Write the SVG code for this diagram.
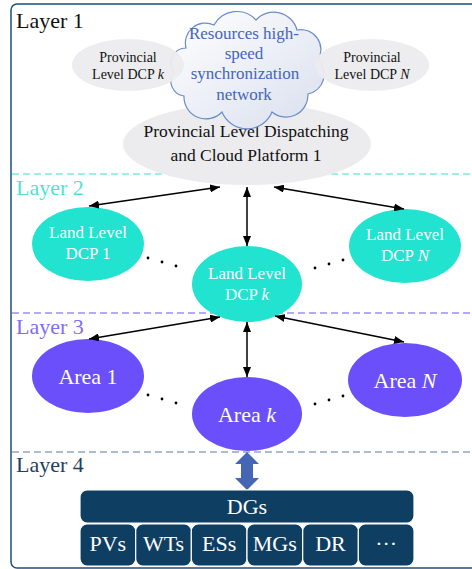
<svg xmlns="http://www.w3.org/2000/svg" width="472" height="569" viewBox="0 0 472 569">
<defs>
<linearGradient id="cloudGrad" x1="0" y1="0" x2="1" y2="1">
<stop offset="0" stop-color="#ffffff"/>
<stop offset="1" stop-color="#d9dfee"/>
</linearGradient>
<marker id="ah" viewBox="0 0 10 8" refX="10" refY="4" markerWidth="10" markerHeight="8" markerUnits="userSpaceOnUse" orient="auto-start-reverse">
<path d="M0,0 L10,4 L0,8 Z" fill="#000"/>
</marker>
<style>
text{font-family:"Liberation Serif","Times New Roman",serif;}
.layer{font-size:22px;}
.prov{fill:#ececef;}
.provt{font-size:14px;fill:#111;text-anchor:middle;}
.land{fill:#22e2d0;}
.area{fill:#6a4ffb;}
.wt{fill:#fff;text-anchor:middle;}
.cell{fill:#0f3e63;stroke:#fff;stroke-width:1.2;}
.conn{stroke:#000;stroke-width:1.5;fill:none;marker-start:url(#ah);marker-end:url(#ah);}
.dot{fill:#000;}
</style>
</defs>
<rect x="11" y="4" width="475" height="564" rx="6" fill="#fff" stroke="#1f4e79" stroke-width="1.5"/>
<line x1="12" y1="174" x2="472" y2="174" stroke="#7fe9df" stroke-width="1.5" stroke-dasharray="7,4"/>
<line x1="12" y1="313" x2="472" y2="313" stroke="#9d8ff8" stroke-width="1.5" stroke-dasharray="7,4"/>
<line x1="12" y1="452" x2="472" y2="452" stroke="#8fa6bd" stroke-width="1.5" stroke-dasharray="7,4"/>
<text class="layer" x="16" y="28" fill="#111">Layer 1</text>
<text class="layer" x="16" y="195" fill="#4fe3d4">Layer 2</text>
<text class="layer" x="16" y="334" fill="#7f6cf7">Layer 3</text>
<text class="layer" x="16" y="472" fill="#1f4060">Layer 4</text>
<g id="platform">
<ellipse class="prov" cx="247" cy="144" rx="124" ry="41"/>
<text x="246" y="137" font-size="17.5" fill="#111" text-anchor="middle">Provincial Level Dispatching</text>
<text x="246" y="161" font-size="17.5" fill="#111" text-anchor="middle">and Cloud Platform 1</text>
</g>
<g id="cloud">
<path d="M186,48 A20,20 0 0 1 214,25 A26,26 0 0 1 256,20 A24,24 0 0 1 297,30 A20,20 0 0 1 318,60 A20,20 0 0 1 308,94 A22,22 0 0 1 272,112 A27,27 0 0 1 222,112 A22,22 0 0 1 184,96 A15,15 0 0 1 174,72 A15,15 0 0 1 186,48 Z" fill="url(#cloudGrad)" stroke="#6a8ccc" stroke-width="1.2"/>
<text x="244" y="39" font-size="17" fill="#4466bb" text-anchor="middle">Resources high-</text>
<text x="244" y="59" font-size="17" fill="#4466bb" text-anchor="middle">speed</text>
<text x="245" y="79" font-size="17" fill="#4466bb" text-anchor="middle">synchronization</text>
<text x="244" y="100" font-size="17" fill="#4466bb" text-anchor="middle">network</text>
</g>
<g id="provK">
<ellipse class="prov" cx="128" cy="65" rx="56" ry="26" opacity="0.95"/>
<text class="provt" x="128" y="62">Provincial</text>
<text class="provt" x="128" y="79">Level DCP <tspan font-style="italic">k</tspan></text>
</g>
<g id="provN">
<ellipse class="prov" cx="372" cy="65" rx="57" ry="26" opacity="0.95"/>
<text class="provt" x="372" y="62">Provincial</text>
<text class="provt" x="372" y="79">Level DCP <tspan font-style="italic">N</tspan></text>
</g>
<g id="land1">
<ellipse class="land" cx="88" cy="244" rx="56" ry="37"/>
<text class="wt" x="88" y="238" font-size="17">Land Level</text>
<text class="wt" x="88" y="259" font-size="17">DCP 1</text>
</g>
<g id="landK">
<ellipse class="land" cx="247" cy="284" rx="55" ry="38"/>
<text class="wt" x="247" y="279" font-size="17">Land Level</text>
<text class="wt" x="247" y="300" font-size="17">DCP <tspan font-style="italic">k</tspan></text>
</g>
<g id="landN">
<ellipse class="land" cx="405" cy="246" rx="56" ry="37"/>
<text class="wt" x="405" y="240" font-size="17">Land Level</text>
<text class="wt" x="405" y="261" font-size="17">DCP <tspan font-style="italic">N</tspan></text>
</g>
<g id="area1">
<ellipse class="area" cx="88" cy="376" rx="56" ry="37"/>
<text class="wt" x="88" y="384" font-size="22">Area 1</text>
</g>
<g id="areaK">
<ellipse class="area" cx="247" cy="414" rx="55" ry="37"/>
<text class="wt" x="247" y="422" font-size="22">Area <tspan font-style="italic">k</tspan></text>
</g>
<g id="areaN">
<ellipse class="area" cx="405" cy="380" rx="57" ry="37"/>
<text class="wt" x="405" y="388" font-size="22">Area <tspan font-style="italic">N</tspan></text>
</g>
<g id="dots">
<circle class="dot" cx="148" cy="258" r="1.4"/><circle class="dot" cx="162" cy="262" r="1.4"/><circle class="dot" cx="176" cy="266" r="1.4"/>
<circle class="dot" cx="315" cy="268" r="1.4"/><circle class="dot" cx="329" cy="264" r="1.4"/><circle class="dot" cx="343" cy="260" r="1.4"/>
<circle class="dot" cx="148" cy="395" r="1.4"/><circle class="dot" cx="162" cy="399" r="1.4"/><circle class="dot" cx="176" cy="403" r="1.4"/>
<circle class="dot" cx="315" cy="404" r="1.4"/><circle class="dot" cx="329" cy="400" r="1.4"/><circle class="dot" cx="343" cy="396" r="1.4"/>
</g>
<g id="connectors">
<line class="conn" x1="220" y1="187" x2="89" y2="206"/>
<line class="conn" x1="274" y1="187" x2="404" y2="209"/>
<line class="conn" x1="247" y1="187" x2="247" y2="246"/>
<line class="conn" x1="220" y1="317" x2="89" y2="339"/>
<line class="conn" x1="275" y1="316" x2="404" y2="342"/>
<line class="conn" x1="247" y1="322" x2="247" y2="377"/>
<path d="M247,452 L259,464 L253,464 L253,478 L259,478 L247,490 L235,478 L241,478 L241,464 L235,464 Z" fill="#4466b4"/>
</g>
<g id="dgs">
<rect class="cell" x="80" y="490" width="334" height="33" rx="7"/>
<text class="wt" x="247" y="514" font-size="22">DGs</text>
</g>
<g id="cells">
<rect class="cell" x="80" y="524" width="55.7" height="42" rx="7"/>
<rect class="cell" x="135.7" y="524" width="55.7" height="42" rx="7"/>
<rect class="cell" x="191.3" y="524" width="55.7" height="42" rx="7"/>
<rect class="cell" x="247" y="524" width="55.7" height="42" rx="7"/>
<rect class="cell" x="302.7" y="524" width="55.7" height="42" rx="7"/>
<rect class="cell" x="358.3" y="524" width="55.7" height="42" rx="7"/>
<text class="wt" x="107.8" y="551" font-size="22">PVs</text>
<text class="wt" x="163.5" y="551" font-size="22">WTs</text>
<text class="wt" x="219.2" y="551" font-size="22">ESs</text>
<text class="wt" x="274.8" y="551" font-size="22">MGs</text>
<text class="wt" x="330.5" y="551" font-size="22">DR</text>
<text class="wt" x="386.2" y="551" font-size="22">···</text>
</g>
</svg>
